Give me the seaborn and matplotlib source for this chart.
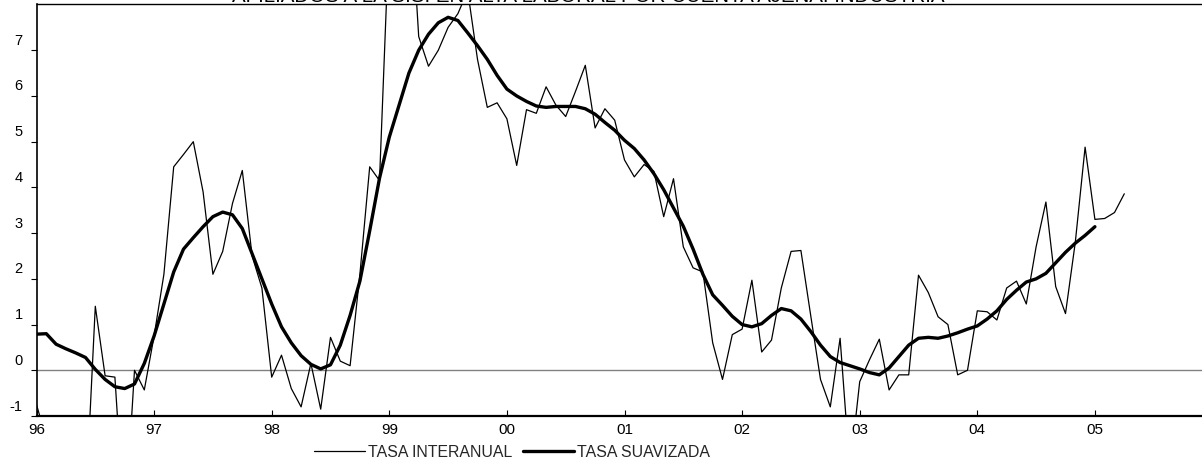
import numpy as np
import pandas as pd
import matplotlib
matplotlib.use("Agg")
import matplotlib.pyplot as plt
import matplotlib.transforms as mtransforms
import seaborn as sns

# ---- data (monthly, starting Jan 1996) ----
start_year = 1996
tasa_interanual = [
    -0.75, -1.5, -2.2, -2.6, -2.8, -3.0, 1.4, -0.12, -0.15, -3.5, 0.0, -0.43,
    0.75, 2.1, 4.45, 4.72, 5.0, 3.9, 2.1, 2.6, 3.65, 4.37, 2.5, 1.8,
    -0.15, 0.33, -0.4, -0.8, 0.15, -0.85, 0.72, 0.2, 0.1, 2.1, 4.45, 4.15,
    9.65, 11.0, 10.8, 7.3, 6.65, 7.0, 7.5, 7.8, 8.3, 6.8, 5.75, 5.85,
    5.5, 4.48, 5.7, 5.62, 6.2, 5.8, 5.55, 6.1, 6.67, 5.3, 5.72, 5.47,
    4.6, 4.23, 4.5, 4.35, 3.36, 4.19, 2.7, 2.24, 2.15, 0.6, -0.2, 0.78,
    0.9, 1.97, 0.4, 0.66, 1.8, 2.6, 2.62, 1.2, -0.2, -0.8, 0.7, -2.2,
    -0.25, 0.23, 0.68, -0.43, -0.1, -0.1, 2.08, 1.7, 1.17, 1.0, -0.1, 0.0,
    1.3, 1.28, 1.1, 1.8, 1.95, 1.45, 2.7, 3.68, 1.83, 1.24, 2.8, 4.88,
    3.3, 3.32, 3.45, 3.86,
]
tasa_suavizada = [
    0.79, 0.80, 0.57, 0.47, 0.38, 0.28, 0.02, -0.2, -0.36, -0.40, -0.3, 0.15,
    0.75, 1.45, 2.15, 2.65, 2.9, 3.14, 3.36, 3.46, 3.40, 3.1, 2.55, 2.0,
    1.45, 0.95, 0.6, 0.32, 0.13, 0.03, 0.12, 0.55, 1.2, 1.95, 3.05, 4.2,
    5.1, 5.8, 6.5, 7.0, 7.35, 7.6, 7.72, 7.65, 7.38, 7.1, 6.8, 6.45,
    6.15, 6.0, 5.88, 5.78, 5.75, 5.77, 5.77, 5.77, 5.72, 5.6, 5.42, 5.25,
    5.03, 4.85, 4.6, 4.3, 3.95, 3.55, 3.15, 2.65, 2.1, 1.65, 1.42, 1.18,
    1.0, 0.95, 1.02, 1.2, 1.35, 1.3, 1.12, 0.85, 0.55, 0.3, 0.17, 0.1,
    0.03, -0.05, -0.1, 0.05, 0.3, 0.55, 0.7, 0.72, 0.7, 0.75, 0.82, 0.9,
    0.97, 1.12, 1.3, 1.55, 1.75, 1.93, 2.0, 2.12, 2.35, 2.58, 2.78, 2.95,
    3.14,
]
year_ticks = [1996, 1997, 1998, 1999, 2000, 2001, 2002, 2003, 2004, 2005]
year_labels = ["96", "97", "98", "99", "00", "01", "02", "03", "04", "05"]
y_ticks = [-1, 0, 1, 2, 3, 4, 5, 6, 7]
titulo = "AFILIADOS A LA S.S. EN ALTA LABORAL POR CUENTA AJENA. INDUSTRIA"
labels = ["TASA INTERANUAL", "TASA SUAVIZADA"]

df_i = pd.DataFrame({"t": start_year + np.arange(len(tasa_interanual)) / 12.0,
                     "v": tasa_interanual})
df_s = pd.DataFrame({"t": start_year + np.arange(len(tasa_suavizada)) / 12.0,
                     "v": tasa_suavizada})

sns.set_style("white")
plt.rcParams["font.family"] = ["Liberation Sans", "DejaVu Sans"]

W, H = 1202, 461
fig = plt.figure(figsize=(W / 100, H / 100), dpi=100)
left_px, bottom_px, top_px = 36.5, 416, 4.5
ax = fig.add_axes([left_px / W, (H - bottom_px) / H, (W - left_px) / W,
                   (bottom_px - top_px) / H])

ax.axhline(0, color="#808080", lw=1.0, zorder=1)
sns.lineplot(data=df_i, x="t", y="v", ax=ax, color="black", lw=0.9,
             label=labels[0], zorder=2)
sns.lineplot(data=df_s, x="t", y="v", ax=ax, color="black", lw=2.4,
             label=labels[1], zorder=3)

ax.set_xlim(1996, 1996 + (W - left_px) / 117.6)
ax.set_ylim(-1, 8)
ax.set_xlabel("")
ax.set_ylabel("")
ax.set_xticks(year_ticks)
ax.set_xticklabels(year_labels)
ax.set_yticks(y_ticks)
ax.set_yticklabels([str(v) for v in y_ticks])

for s in ["left", "bottom", "top"]:
    ax.spines[s].set_visible(True)
    ax.spines[s].set_color("black")
ax.spines["left"].set_linewidth(1.2)
ax.spines["bottom"].set_linewidth(1.6)
ax.spines["top"].set_linewidth(1.0)
ax.spines["right"].set_visible(False)

ax.tick_params(axis="x", direction="in", length=4, width=0.8, pad=5,
               labelsize=11, colors="black", bottom=True)
ax.tick_params(axis="y", direction="out", length=4, width=0.8, pad=6,
               labelsize=10.5, colors="black", left=True)
off = mtransforms.ScaledTranslation(0, 11 / 100, fig.dpi_scale_trans)
for lab in ax.get_yticklabels():
    lab.set_transform(lab.get_transform() + off)

leg = ax.legend(loc="center", bbox_to_anchor=(512 / W, 1 - 452 / H),
                bbox_transform=fig.transFigure, ncol=2, frameon=False,
                fontsize=11.4, handlelength=3.2, handletextpad=0.2,
                columnspacing=0.7, borderpad=0, borderaxespad=0)

fig.text(588 / W, 1 - 2.5 / H, titulo, ha="center", va="baseline",
         fontsize=14.8, color="black")

fig.savefig("out.png", dpi=100)
